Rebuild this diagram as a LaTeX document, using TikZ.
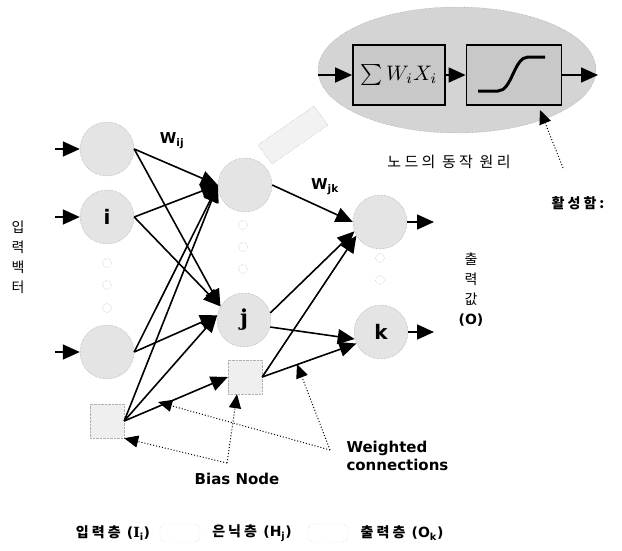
\documentclass[tikz,border=0pt]{standalone}
\usepackage{fontspec}
\setmainfont{DejaVu Sans}
\newfontfamily\krfont[LetterSpace=22]{Noto Sans CJK KR}
\newfontfamily\seriffont{DejaVu Serif}
\usetikzlibrary{shapes.geometric, arrows.meta, positioning, calc}
\definecolor{nodefill}{HTML}{E4E4E4}
\definecolor{nodeedge}{HTML}{8C8C8C}
\definecolor{ovalfill}{HTML}{D4D4D4}
\definecolor{boxfill}{HTML}{C8C8C8}

\begin{document}
\begin{tikzpicture}[x=1pt, y=-1pt,
  neuron/.style={circle, fill=nodefill, draw=nodeedge, densely dotted, minimum size=54pt, inner sep=0pt, font=\fontsize{20}{20}\selectfont\bfseries},
  biasbox/.style={rectangle, fill=nodefill!60, draw=nodeedge!70, densely dotted, minimum size=34pt, inner sep=0pt},
  tinynode/.style={circle, draw=nodeedge!80, densely dotted, minimum size=9pt, inner sep=0pt},
  wire/.style={-{Triangle[length=17pt,width=15pt]}, line width=1.6pt},
  pointer/.style={-{Triangle[length=14pt,width=12pt]}, dotted, line width=1pt},
  funcbox/.style={rectangle, fill=boxfill, draw, line width=1.8pt, minimum width=92pt, minimum height=60pt, inner sep=0pt},
  boldlabel/.style={font=\fontsize{15}{18}\selectfont\bfseries},
  krlabel/.style={font=\krfont\fontsize{14}{20}\selectfont}]
  \useasboundingbox (0,0) rectangle (622,550);

  % node operation (top right)
  \node[ellipse, fill=ovalfill, draw=nodeedge, densely dotted, minimum width=278pt, minimum height=126pt] (oval) at (457,70) {};
  \draw[nodeedge!80, densely dotted, fill=nodefill!50] (258,145) -- (314,106) -- (328,125) -- (272,164) -- cycle;
  \node[funcbox] (sum) at (399,75) {\scalebox{2.1}{$\sum W_{i}X_{i}$}};
  \node[funcbox, minimum width=95pt] (act) at (514,75) {};
  \draw[line width=3pt] (478,91) -- (498,91) .. controls (512,91) and (514,57) .. (528,57) -- (545,57);
  \coordinate (ovalin) at (318,75);
  \coordinate (ovalout) at (598,75);
  \draw[wire] (ovalin) -- (sum);
  \draw[wire] (sum) -- (act);
  \draw[wire] (act) -- (ovalout);
  \node[krlabel, font=\krfont\fontsize{15}{20}\selectfont] (oplabel) at (449,162) {노드의 동작 원리};
  \node[krlabel, font=\krfont\fontsize{14}{20}\selectfont\bfseries] (actlabel) at (578,203) {활성함:};
  \coordinate (actfrom) at (563,168);
  \coordinate (acttip) at (540,110);
  \draw[pointer] (actfrom) -- (acttip);

  % input layer
  \node[neuron] (i1) at (107,149) {};
  \node[neuron] (i2) at (107,217) {i};
  \node[tinynode] (idot1) at (107,263) {};
  \node[tinynode] (idot2) at (107,285) {};
  \node[tinynode] (idot3) at (107,308) {};
  \node[neuron] (i3) at (107,352) {};
  \node[biasbox] (ib) at (107,421) {};

  % hidden layer
  \node[neuron] (h1) at (245,185) {};
  \node[tinynode] (hdot1) at (243,225) {};
  \node[tinynode] (hdot2) at (243,247) {};
  \node[tinynode] (hdot3) at (243,269) {};
  \node[neuron, font=\fontsize{22}{22}\selectfont\seriffont\bfseries] (h2) at (244,320) {j};
  \node[biasbox] (hb) at (245,377) {};

  % output layer
  \node[neuron] (k1) at (380,222) {};
  \node[tinynode] (kdot1) at (380,258) {};
  \node[tinynode] (kdot2) at (380,280) {};
  \node[neuron] (k2) at (381,332) {k};

  % inputs and outputs
  \coordinate (x1) at (55,149);
  \coordinate (x2) at (55,217);
  \coordinate (x3) at (55,352);
  \draw[wire] (x1) -- (i1.west);
  \draw[wire] (x2) -- (i2.west);
  \draw[wire] (x3) -- (i3.west);
  \coordinate (o1) at (434,222);
  \coordinate (o2) at (434,332);
  \draw[wire] (k1.east) -- (o1);
  \draw[wire] (k2.east) -- (o2);

  % weights input -> hidden
  \draw[wire] (i1.east) -- (h1.west);
  \draw[wire] (i2.east) -- (h1.west);
  \draw[wire] (i3.east) -- (h1.west);
  \draw[wire] (ib.east) -- (h1.west);
  \draw[wire] (i1.east) -- (h2.150);
  \draw[wire] (i2.east) -- (h2.150);
  \draw[wire] (i3.east) -- (h2.170);
  \draw[wire] (ib.east) -- (h2.170);
  \draw[wire] (ib.east) -- (hb.west);

  % weights hidden -> output
  \draw[wire] (h1.east) -- (k1.west);
  \draw[wire] (h2.15) -- (k1.200);
  \draw[wire] (hb.east) -- (k1.210);
  \draw[wire] (h2.-15) -- (k2.195);
  \draw[wire] (hb.east) -- (k2.205);

  \node[boldlabel] (wij) at (172,141) {W\textsubscript{ij}};
  \node[boldlabel] (wjk) at (325,187) {W\textsubscript{jk}};

  % annotations
  \coordinate (biascorner) at (227,463);
  \draw[pointer] (biascorner) -- ([xshift=-8pt]hb.south);
  \draw[pointer] (biascorner) -- (ib.south east);
  \node[boldlabel] (biaslabel) at (237,479) {Bias Node};
  \coordinate (wcorner) at (330,450);
  \coordinate (wtip1) at (297,364);
  \coordinate (wtip2) at (158,402);
  \draw[pointer] (wcorner) -- (wtip1);
  \draw[pointer] (wcorner) -- (wtip2);
  \node[boldlabel, align=left, anchor=north west] (wlabel) at (343,438) {Weighted\\connections};

  \node[krlabel, align=center] (invec) at (18,257) {입\\력\\백\\터};
  \node[krlabel, align=center] (outval) at (471,290) {출\\력\\값\\{\normalfont\fontsize{14}{20}\selectfont\bfseries (O)}};

  % legend
  \node[krlabel, font=\krfont\fontsize{14}{20}\selectfont\bfseries] (leg1) at (113,533) {입력층 {\normalfont\fontsize{14}{16}\selectfont\bfseries ({\seriffont I}\textsubscript{i})}};
  \draw[nodeedge!50, densely dotted, rounded corners=5pt] (160,524) rectangle (200,542);
  \node[krlabel, font=\krfont\fontsize{14}{20}\selectfont\bfseries] (leg2) at (252,533) {은닉층 {\normalfont\fontsize{14}{16}\selectfont\bfseries (H\textsubscript{j})}};
  \draw[nodeedge!50, densely dotted, rounded corners=5pt] (308,524) rectangle (348,542);
  \node[krlabel, font=\krfont\fontsize{14}{20}\selectfont\bfseries] (leg3) at (402,533) {출력층 {\normalfont\fontsize{14}{16}\selectfont\bfseries (O\textsubscript{k})}};
\end{tikzpicture}
\end{document}
